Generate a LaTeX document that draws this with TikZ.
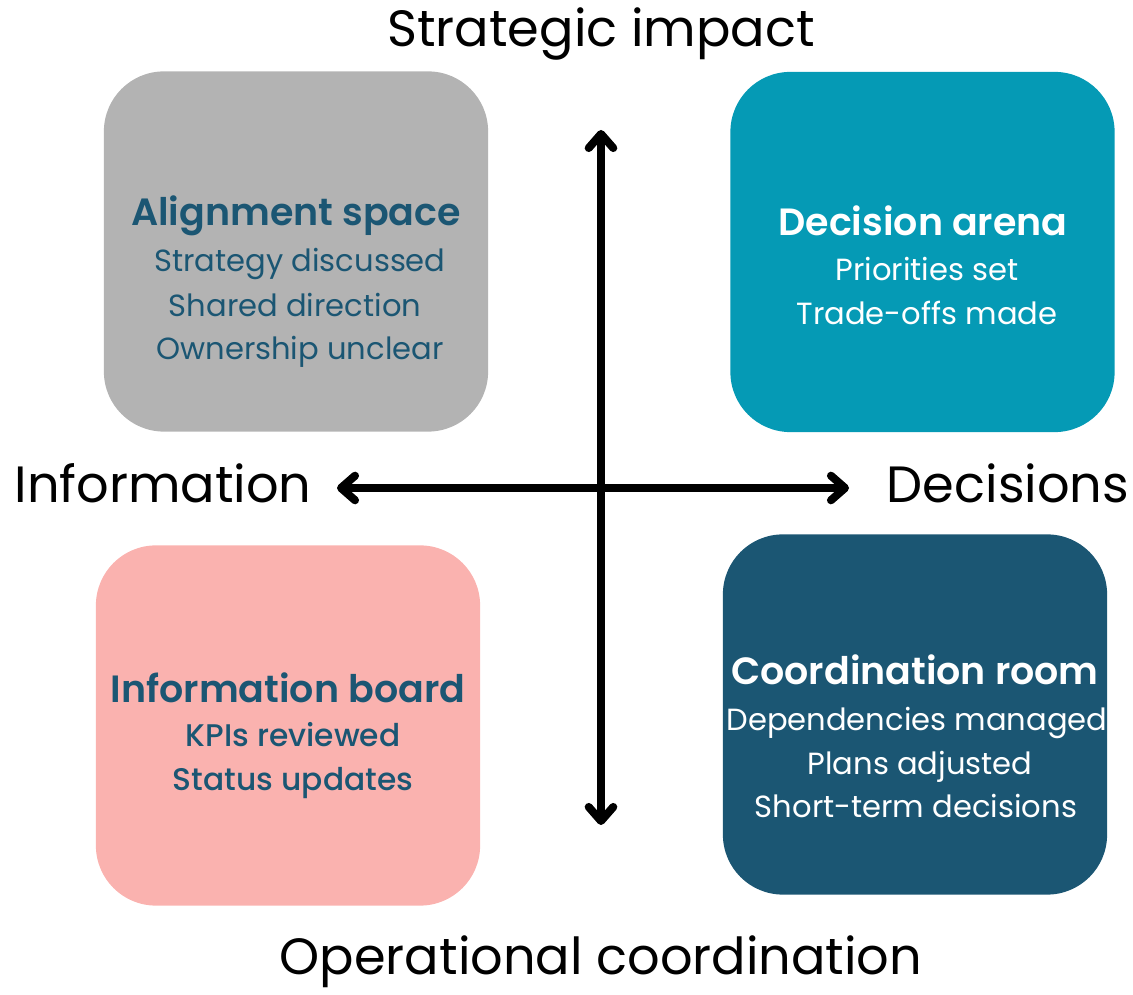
\documentclass[tikz,border=0pt]{standalone}
\usepackage{fontspec}
\setmainfont{Poppins}
\newfontfamily\semibold{Poppins SemiBold}
\newfontfamily\medium{Poppins Medium}
\usetikzlibrary{arrows.meta}

\definecolor{cardgray}{HTML}{B3B3B3}
\definecolor{cardteal}{HTML}{059AB5}
\definecolor{cardpink}{HTML}{FAB2AF}
\definecolor{cardnavy}{HTML}{1B5673}

\begin{document}
\begin{tikzpicture}[
    x=0.01cm, y=-0.01cm,
    card/.style={rectangle, rounded corners=0.6cm, minimum width=3.84cm,
        minimum height=3.6cm, inner sep=0pt},
    axis/.style={line width=0.08cm,
        {Straight Barb[length=4pt,width=7pt,round]}-{Straight Barb[length=4pt,width=7pt,round]}},
    axislabel/.style={anchor=base, font=\fontsize{14.5}{17}\selectfont},
    cardtitle/.style={anchor=base, font=\fontsize{10.8}{13}\selectfont\semibold},
    cardline/.style={anchor=base, font=\fontsize{8.7}{10}\selectfont}
]

    \useasboundingbox (0,0) rectangle (1133,995);

    % --- CARDS ---
    \node[card, fill=cardgray] (align) at (296,251.5) {};
    \node[card, fill=cardteal] (decide) at (922.5,252) {};
    \node[card, fill=cardpink] (inform) at (288,725.5) {};
    \node[card, fill=cardnavy] (coord) at (915,714.5) {};

    % --- AXES ---
    \coordinate (top) at (601,130);
    \coordinate (bottom) at (601,825);
    \coordinate (left) at (337,488);
    \coordinate (right) at (849,488);

    \draw[axis] (top) -- (bottom);
    \draw[axis] (left) -- (right);

    % Axis labels
    \node[axislabel] (strat) at (601,47) {Strategic impact};
    \node[axislabel] (oper) at (601,975) {Operational coordination};
    \node[axislabel] (info) at (163,503) {Information};
    \node[axislabel] (dec) at (1008,503) {Decisions};

    % --- CARD TEXT ---
    % Alignment space (top left)
    \node[cardtitle, text=cardnavy] (alignT) at (296,226) {Alignment space};
    \node[cardline, text=cardnavy] (align1) at (300,272) {Strategy discussed};
    \node[cardline, text=cardnavy] (align2) at (295,317) {Shared direction};
    \node[cardline, text=cardnavy] (align3) at (300,360) {Ownership unclear};

    % Decision arena (top right)
    \node[cardtitle, text=white] (decideT) at (923,236) {Decision arena};
    \node[cardline, text=white] (decide1) at (927,281) {Priorities set};
    \node[cardline, text=white] (decide2) at (927,325) {Trade-offs made};

    % Information board (bottom left)
    \node[cardtitle, text=cardnavy] (informT) at (288,703) {Information board};
    \node[cardline, text=cardnavy, font=\fontsize{8.9}{10}\selectfont\medium] (inform1) at (293,747) {KPIs reviewed};
    \node[cardline, text=cardnavy, font=\fontsize{8.9}{10}\selectfont\medium] (inform2) at (293,791) {Status updates};

    % Coordination room (bottom right)
    \node[cardtitle, text=white] (coordT) at (915,685) {Coordination room};
    \node[cardline, text=white] (coord1) at (917,731) {Dependencies managed};
    \node[cardline, text=white] (coord2) at (920,775) {Plans adjusted};
    \node[cardline, text=white] (coord3) at (916,818) {Short-term decisions};

\end{tikzpicture}
\end{document}
